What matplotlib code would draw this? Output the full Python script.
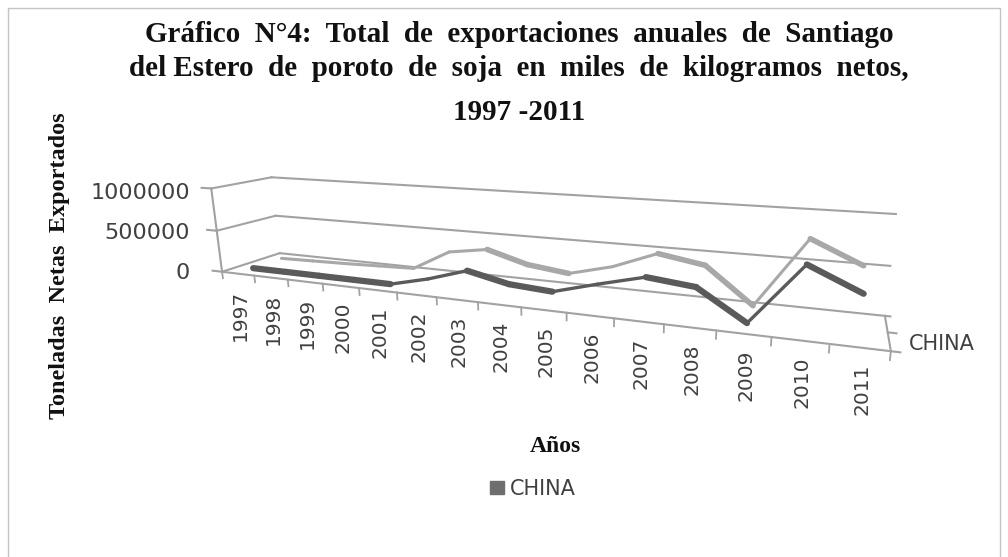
import matplotlib
matplotlib.use("Agg")
import matplotlib.pyplot as plt
import numpy as np
from matplotlib.transforms import Transform
from matplotlib.patches import Rectangle

# Data
years = [1997, 1998, 1999, 2000, 2001, 2002, 2003, 2004, 2005, 2006, 2007, 2008, 2009, 2010, 2011]
# front and back edge of the ribbon, read separately
china_front = [5000, 5000, 4000, 3000, 2000, 110000, 250000, 150000, 120000, 250000, 370000, 320000, 20000, 630000, 410000]
china_back = [10000, 20000, 30000, 45000, 60000, 300000, 370000, 240000, 185000, 305000, 490000, 410000, 40000, 760000, 540000]
value_ticks = [0, 500000, 1000000]
value_labels = ['0', '500000', '1000000']
series_name = 'CHINA'
title_lines = ["Gráfico  N°4:  Total  de  exportaciones  anuales  de  Santiago",
               "del Estero  de  poroto  de  soja  en  miles  de  kilogramos  netos,",
               "1997 -2011"]

# Camera of the fake 3D chart: (category, depth, value) -> image pixel
anchors = [
    (0, 0, 0, 223, 272), (0, 0, 5e5, 215, 230), (0, 0, 1e6, 212, 189),
    (0, 1, 0, 280, 253), (0, 1, 5e5, 275, 216), (0, 1, 1e6, 272, 177),
    (15, 1, 0, 885, 316), (15, 1, 5e5, 890, 266), (15, 1, 1e6, 896, 214),
    (15, 0, 0, 891, 351), (5, 0, 0, 397, 293), (10, 0, 0, 614, 318),
]
rows = []
for cx, cd, cv, px, py in anchors:
    p = [cx, cd, cv / 1e6, 1]
    rows.append(p + [0, 0, 0, 0] + [-px * c for c in p])
    rows.append([0, 0, 0, 0] + p + [-py * c for c in p])
camera = np.linalg.svd(np.array(rows, dtype=float))[2][-1].reshape(3, 4)


class Wall(Transform):
    """(category, value) on a vertical plane at the given depth -> pixels."""
    input_dims = 2
    output_dims = 2

    def __init__(self, plane):
        super().__init__()
        self.plane = plane

    def transform_non_affine(self, values):
        values = np.asarray(values, dtype=float)
        pts = np.column_stack([values[:, 0], np.full(len(values), self.plane),
                               values[:, 1] / 1e6, np.ones(len(values))])
        res = pts @ camera.T
        return res[:, :2] / res[:, 2:]


fig = plt.figure(figsize=(10.08, 5.57), dpi=100)
ax = fig.add_axes([0, 0, 1, 1])
ax.set_xlim(0, 1008)
ax.set_ylim(557, 0)
ax.axis('off')

ax.add_patch(Rectangle((8, 8), 992, 560, fill=False, edgecolor='#c4c4c4', lw=1))

front = Wall(0) + ax.transData
back = Wall(1) + ax.transData
wall_color = '#a2a2a2'

# Walls and floor
for v in value_ticks:
    ax.plot([0, 15.1 if v == 0 else 15], [v, v], color=wall_color, lw=1.5, transform=back)
    ax.plot([-0.3, 0], [v, v], color=wall_color, lw=1.5, transform=front)
    side = [Wall(d).transform((0, v)) for d in (0, 1)]
    ax.plot([side[0][0], side[1][0]], [side[0][1], side[1][1]], color=wall_color, lw=1.5)
ax.plot([0, 0], [0, 1000000], color=wall_color, lw=1.5, transform=front)
ax.plot([0, 15.15], [0, 0], color=wall_color, lw=1.5, transform=front)
right = [Wall(d).transform((15, 0)) for d in (0, 1)]
ax.plot([right[0][0], right[1][0]], [right[0][1], right[1][1]], color=wall_color, lw=1.5)
ax.plot([15, 15.15], [0, 0], color=wall_color, lw=1.5, transform=Wall(0.5) + ax.transData)

# Category ticks and labels
for i in range(len(years) + 1):
    ax.plot([i, i], [0, -80000], color=wall_color, lw=1.3, transform=front)
for i, year in enumerate(years):
    ax.annotate(str(year), xy=(i + 0.5, 0), xycoords=front, xytext=(1.5, -11.5),
                textcoords='offset points', rotation=90, ha='center', va='top',
                fontsize=14.5, color='#404040')

# Series: falling stretches of the ribbon look thick, rising ones thin
xs = np.arange(len(years)) + 0.5
for vals, plane, color, thick, thin in [(china_back, 0.75, '#a8a8a8', 4, 2.2),
                                        (china_front, 0.25, '#5a5a5a', 4.5, 2.4)]:
    trans = Wall(plane) + ax.transData
    for i in range(len(xs) - 1):
        lw = thin if vals[i + 1] > vals[i] else thick
        ax.plot(xs[i:i + 2], vals[i:i + 2], color=color, lw=lw,
                solid_capstyle='round', transform=trans)

# Text
for lab, y in zip(value_labels, [273, 233, 193]):
    ax.text(190, y, lab, ha='right', va='center', fontsize=16, color='#404040')
ax.text(909, 344, series_name, ha='left', va='center', fontsize=15, color='#404040')
for line, y in zip(title_lines, [35, 69, 113]):
    ax.text(519, y, line, ha='center', va='center', fontsize=21, fontweight='bold',
            family='Liberation Serif', color='#111111')
ax.text(60, 266, 'Toneladas  Netas  Exportados', rotation=90, ha='center', va='center',
        fontsize=17.5, fontweight='bold', family='Liberation Serif', color='#111111')
ax.text(555, 447, 'Años', ha='center', va='center', fontsize=17, fontweight='bold',
        family='Liberation Serif', color='#111111')
ax.add_patch(Rectangle((490, 481), 14, 13, color='#6e6e6e'))
ax.text(510, 489, series_name, ha='left', va='center', fontsize=15, color='#404040')

fig.savefig('out.png', dpi=100)
